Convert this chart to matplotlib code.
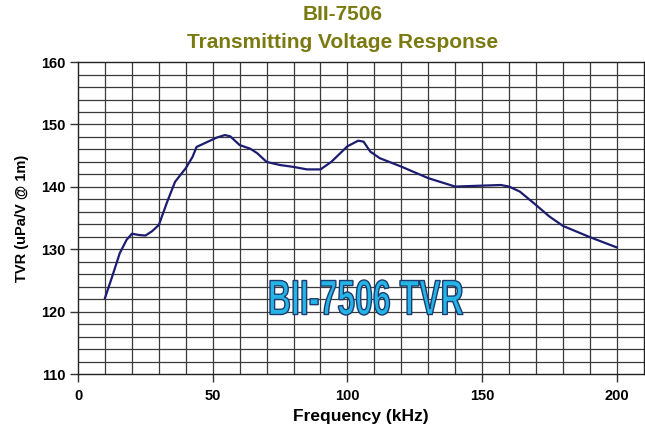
import numpy as np
import matplotlib
matplotlib.use("Agg")
from matplotlib import pyplot as plt
from matplotlib.textpath import TextPath
from matplotlib.font_manager import FontProperties
from matplotlib.patches import PathPatch
from matplotlib.transforms import Affine2D
import matplotlib.patheffects as pe

# data (kHz, uPa/V @ 1m)
freq = [10, 12.5, 15.5, 18, 20, 22.5, 25, 27.5, 30, 33, 36, 40, 42.5, 44, 48,
        51.5, 54.5, 56.5, 60, 64, 66.5, 70, 75, 80, 85, 90, 94, 100, 104, 106,
        108.5, 112, 120, 130, 140, 150, 157, 160, 164, 170, 175, 180, 190, 200]
tvr = [122.2, 125.4, 129.4, 131.5, 132.5, 132.3, 132.2, 132.9, 133.9, 137.5,
       140.8, 143.0, 144.8, 146.4, 147.2, 147.9, 148.3, 148.1, 146.7, 146.1,
       145.4, 144.0, 143.5, 143.2, 142.8, 142.8, 144.0, 146.5, 147.4, 147.25,
       145.65, 144.6, 143.25, 141.4, 140.05, 140.2, 140.3, 140.05, 139.25,
       137.1, 135.25, 133.75, 131.95, 130.3]

x_ticks = [0, 50, 100, 150, 200]
y_ticks = [110, 120, 130, 140, 150, 160]

plt.rcParams['font.family'] = ['Liberation Sans', 'DejaVu Sans']

fig = plt.figure(figsize=(6.45, 4.34), dpi=100)
ax = fig.add_axes([0.121, 0.138, 0.877, 0.719])

ax.set_xlim(0, 210)
ax.set_ylim(110, 160)

## grid every 10 kHz and every 2 dB
for xv in np.arange(10, 210, 10):
    ax.axvline(xv, color='#3a3a3a', lw=0.9, zorder=1)
for yv in np.arange(112, 160, 2):
    ax.axhline(yv, color='#3a3a3a', lw=0.9, zorder=1)

ax.plot(freq, tvr, color='#1c1c70', lw=1.6, zorder=3)

ax.set_xticks(x_ticks)
ax.set_yticks(y_ticks)
ax.tick_params(direction='out', length=6, width=1, color='#333333')
ax.tick_params(axis='y', pad=3)
ax.tick_params(axis='x', pad=5)
for lab in ax.get_xticklabels() + ax.get_yticklabels():
    lab.set_fontweight('bold')
    lab.set_fontsize(10.5)

for sp in ax.spines.values():
    sp.set_color('#222222')
    sp.set_linewidth(1)

ax.set_xlabel("Frequency (kHz)", fontsize=12.5, fontweight='bold', labelpad=4)
ax.set_ylabel("TVR (uPa/V @ 1m)", fontsize=10.5, fontweight='bold', labelpad=9)

fig.text(0.531, 0.966, "BII-7506", ha='center', va='center',
         fontsize=15, fontweight='bold', color='#7a7a10')
fig.text(0.531, 0.902, "Transmitting Voltage Response", ha='center', va='center',
         fontsize=15, fontweight='bold', color='#7a7a10')

## condensed watermark: squeeze the text path horizontally
tp = TextPath((0, 0), "BII-7506 TVR", size=40,
              prop=FontProperties(family='Liberation Sans', weight='bold'))
ext = tp.get_extents()
want_w, want_h = 193, 35
sx = want_w / ext.width
sy = want_h / ext.height
cx_px, cy_px = 366.5, 434 - 297.5
tr = (Affine2D().translate(-(ext.x0 + ext.width / 2), -(ext.y0 + ext.height / 2))
      .scale(sx, sy).translate(cx_px, cy_px))
patch = PathPatch(tp, transform=tr, facecolor='#25b4e6', edgecolor='#1e3c70',
                  lw=1.0, zorder=4)
fig.add_artist(patch)

fig.savefig("out.png", dpi=100)
